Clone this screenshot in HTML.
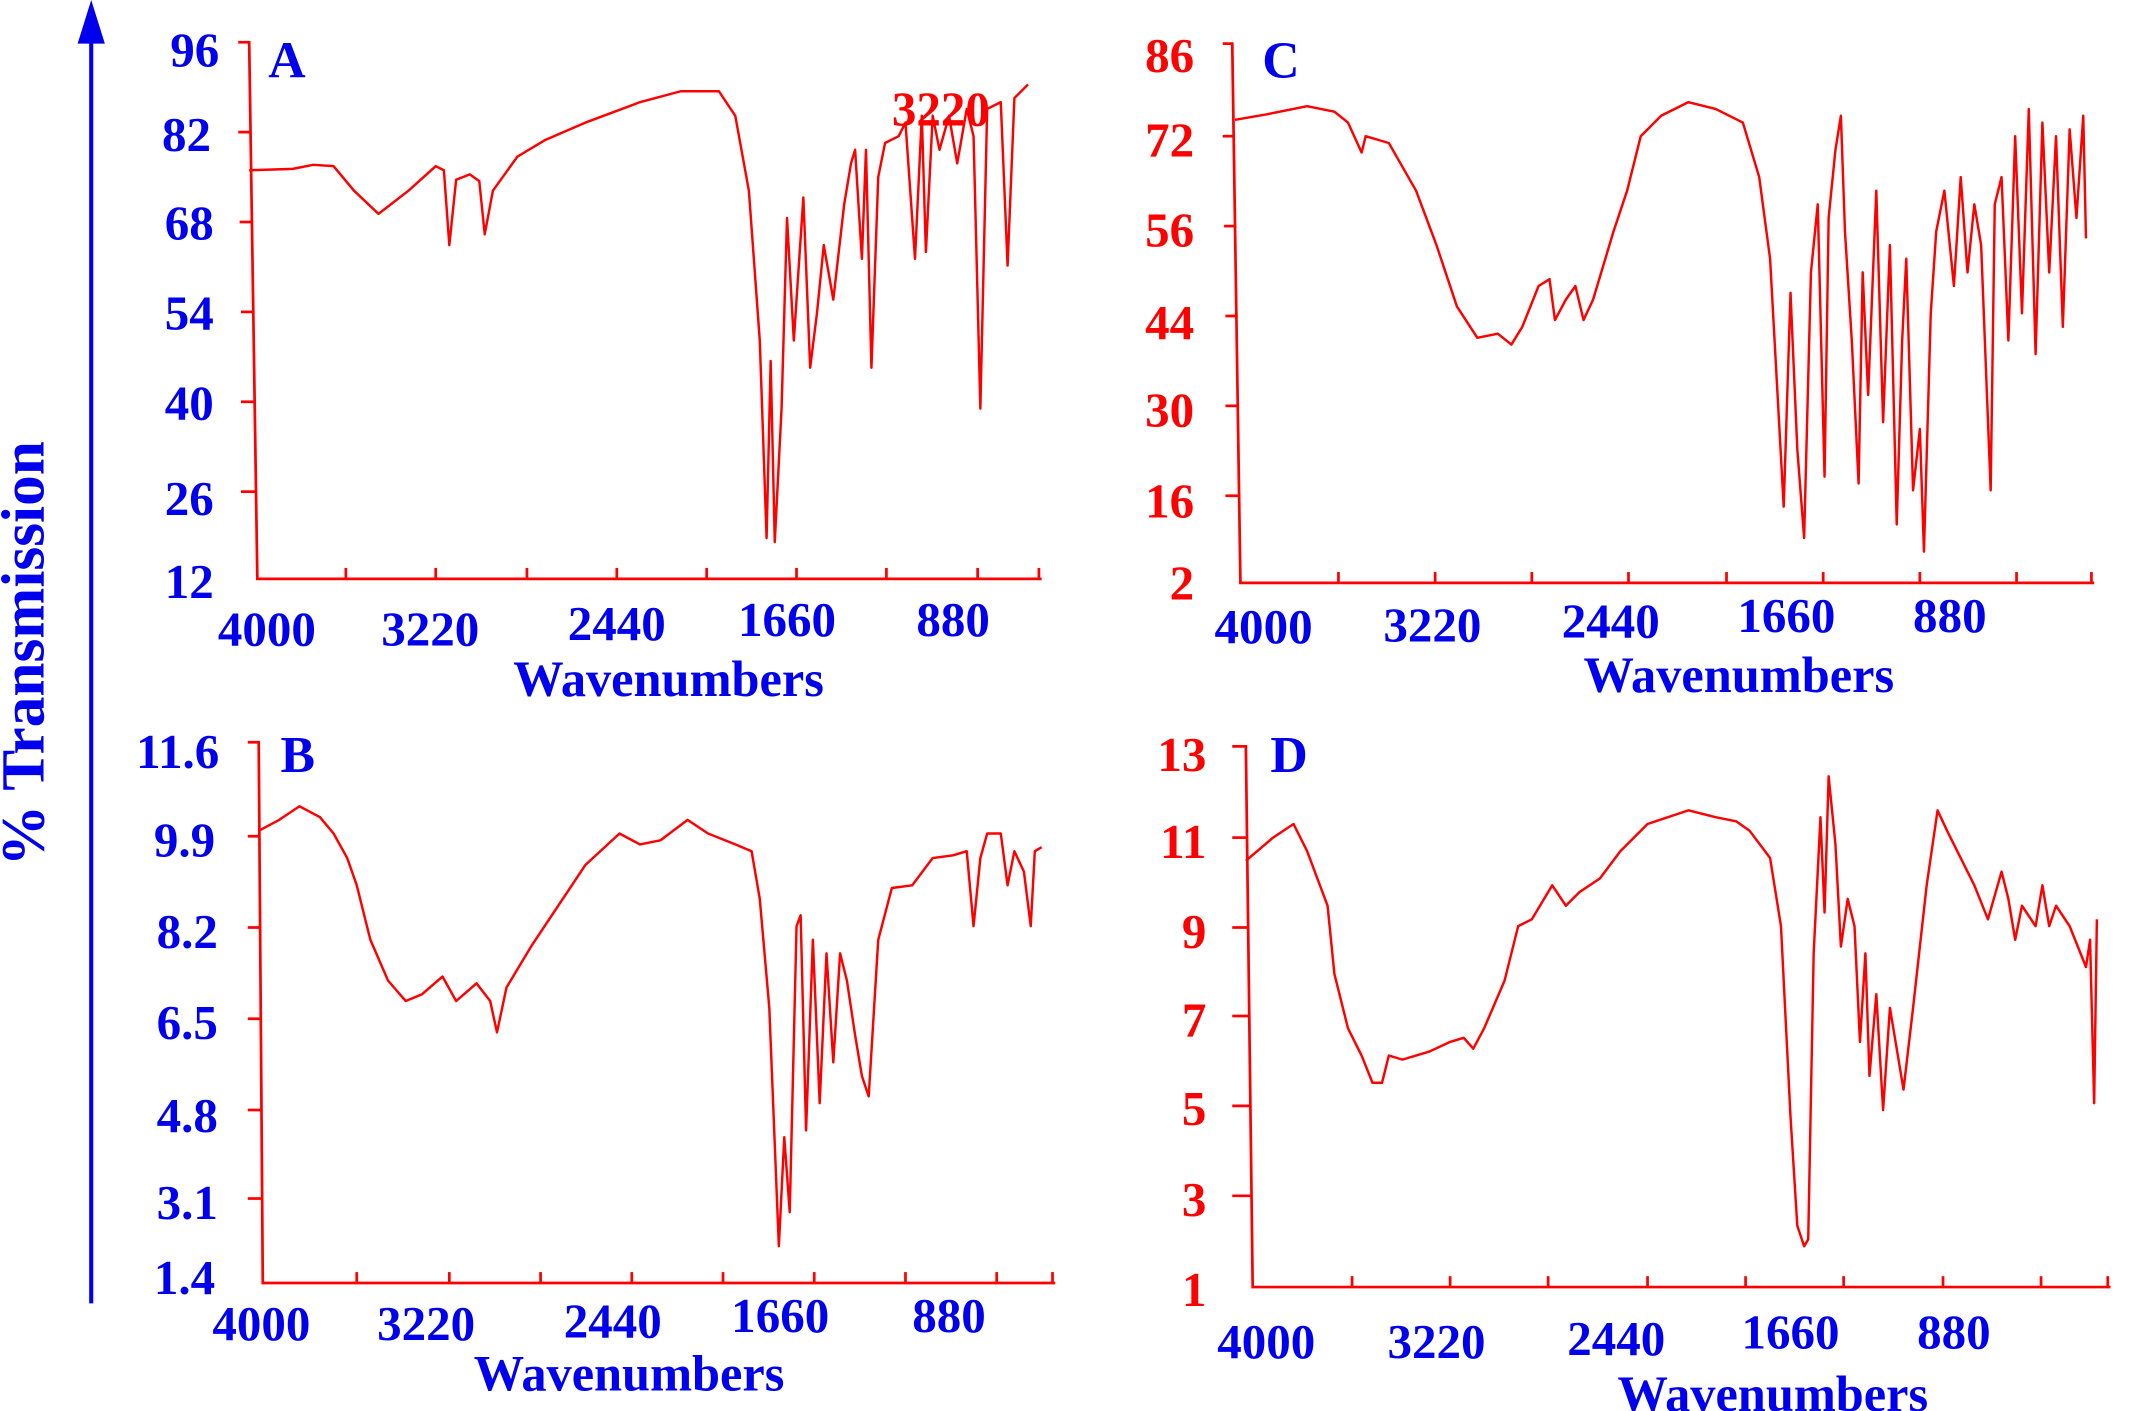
<!DOCTYPE html>
<html><head><meta charset="utf-8"><style>
html,body{margin:0;padding:0;background:#fff;width:2135px;height:1411px;overflow:hidden}
svg{display:block}
text{font-family:"Liberation Serif",serif;font-weight:bold}
.b{fill:#0000ee}.r{fill:#ff0000}
.ax{stroke:#ff0000;stroke-width:2;fill:none}
.sp{stroke:#ff0000;stroke-width:1.8;fill:none;stroke-linejoin:round}
</style></head><body>
<svg width="2135" height="1411" viewBox="0 0 1568 1036" preserveAspectRatio="none">
<line x1="67" y1="957" x2="67" y2="28" stroke="#0000ee" stroke-width="3"/>
<polygon points="57,32 77,32 67,0" fill="#0000ee"/>
<text class="b" font-size="45" transform="translate(32,480) rotate(-90)" text-anchor="middle">% Transmission</text>

<!-- Panel A -->
<polyline class="ax" points="175,31 183,31 189,425 765,425"/>
<g class="ax"><line x1="175" y1="97" x2="184" y2="97"/><line x1="176" y1="163" x2="185" y2="163"/><line x1="177" y1="229" x2="186" y2="229"/><line x1="177" y1="295" x2="187" y2="295"/><line x1="177" y1="361" x2="188" y2="361"/>
<line x1="254" y1="425" x2="254" y2="417"/><line x1="320" y1="425" x2="320" y2="417"/><line x1="387" y1="425" x2="387" y2="417"/><line x1="453" y1="425" x2="453" y2="417"/><line x1="519" y1="425" x2="519" y2="417"/><line x1="585" y1="425" x2="585" y2="417"/><line x1="651" y1="425" x2="651" y2="417"/><line x1="718" y1="425" x2="718" y2="417"/><line x1="763" y1="425" x2="763" y2="417"/></g>
<g class="b" font-size="36" text-anchor="end"><text x="161" y="49">96</text><text x="155" y="111">82</text><text x="157" y="176">68</text><text x="157" y="242">54</text><text x="157" y="308">40</text><text x="157" y="378">26</text><text x="157" y="439">12</text></g>
<g class="b" font-size="36" text-anchor="middle"><text x="196" y="474">4000</text><text x="316" y="474">3220</text><text x="453" y="470">2440</text><text x="578" y="467">1660</text><text x="700" y="467">880</text></g>
<text class="b" font-size="37" x="491" y="511" text-anchor="middle">Wavenumbers</text>
<text class="b" font-size="38" x="197" y="57">A</text>
<text class="r" font-size="36" x="655" y="92">3220</text>
<polyline class="sp" points="183,125 215,124 230,121 245,122 260,140 278,157 300,140 320,122 326,125 330,180 335,132 345,128 352,133 356,172 362,140 380,115 400,103 430,90 470,75 500,67 528,67 540,85 550,140 558,250 563,395 566,265 569,398 574,300 578,160 583,250 590,145 595,270 600,230 605,180 612,220 620,150 625,120 628,110 633,190 636,110 640,270 645,130 650,105 660,100 665,90 672,190 677,85 680,185 685,85 690,110 697,85 703,120 710,80 715,100 720,300 725,80 735,75 740,195 745,72 755,62"/>

<!-- Panel C -->
<polyline class="ax" points="898,32 905,32 911,428 1538,428"/>
<g class="ax"><line x1="898" y1="100" x2="907" y2="100"/><line x1="899" y1="166" x2="908" y2="166"/><line x1="900" y1="232" x2="909" y2="232"/><line x1="900" y1="298" x2="910" y2="298"/><line x1="900" y1="364" x2="911" y2="364"/>
<line x1="983" y1="428" x2="983" y2="420"/><line x1="1054" y1="428" x2="1054" y2="420"/><line x1="1125" y1="428" x2="1125" y2="420"/><line x1="1196" y1="428" x2="1196" y2="420"/><line x1="1268" y1="428" x2="1268" y2="420"/><line x1="1339" y1="428" x2="1339" y2="420"/><line x1="1410" y1="428" x2="1410" y2="420"/><line x1="1481" y1="428" x2="1481" y2="420"/><line x1="1536" y1="428" x2="1536" y2="420"/></g>
<g class="r" font-size="36" text-anchor="end"><text x="877" y="53">86</text><text x="877" y="115">72</text><text x="877" y="181">56</text><text x="877" y="249">44</text><text x="877" y="313">30</text><text x="877" y="380">16</text><text x="877" y="440">2</text></g>
<g class="b" font-size="36" text-anchor="middle"><text x="928" y="472">4000</text><text x="1052" y="471">3220</text><text x="1183" y="468">2440</text><text x="1312" y="464">1660</text><text x="1432" y="464">880</text></g>
<text class="b" font-size="37" x="1277" y="508" text-anchor="middle">Wavenumbers</text>
<text class="b" font-size="38" x="927" y="57">C</text>
<polyline class="sp" points="907,88 930,84 960,78 980,82 990,90 1000,112 1003,100 1020,105 1040,140 1055,180 1070,225 1085,248 1100,245 1110,253 1118,240 1130,210 1138,205 1142,235 1150,220 1157,210 1163,235 1170,220 1185,170 1195,140 1205,100 1220,85 1240,75 1260,80 1280,90 1292,130 1300,190 1310,372 1315,215 1320,330 1325,395 1330,200 1335,150 1340,350 1343,160 1348,110 1352,85 1355,170 1360,250 1365,355 1368,200 1372,290 1378,140 1383,310 1388,180 1393,385 1397,250 1400,190 1405,360 1410,315 1413,405 1418,230 1422,170 1428,140 1435,210 1440,130 1445,200 1450,150 1455,180 1462,360 1465,150 1470,130 1475,250 1480,100 1485,230 1490,80 1495,260 1500,90 1505,200 1510,100 1515,240 1520,95 1525,160 1530,85 1532,175"/>

<!-- Panel B -->
<polyline class="ax" points="182,545 190,545 193,942 775,942"/>
<g class="ax"><line x1="182" y1="614" x2="191" y2="614"/><line x1="182" y1="681" x2="191" y2="681"/><line x1="182" y1="748" x2="192" y2="748"/><line x1="182" y1="815" x2="192" y2="815"/><line x1="182" y1="880" x2="193" y2="880"/>
<line x1="262" y1="942" x2="262" y2="934"/><line x1="330" y1="942" x2="330" y2="934"/><line x1="397" y1="942" x2="397" y2="934"/><line x1="464" y1="942" x2="464" y2="934"/><line x1="531" y1="942" x2="531" y2="934"/><line x1="598" y1="942" x2="598" y2="934"/><line x1="665" y1="942" x2="665" y2="934"/><line x1="732" y1="942" x2="732" y2="934"/><line x1="773" y1="942" x2="773" y2="934"/></g>
<g class="b" font-size="36" text-anchor="end"><text x="161" y="564">11.6</text><text x="158" y="629">9.9</text><text x="160" y="696">8.2</text><text x="160" y="763">6.5</text><text x="160" y="831">4.8</text><text x="160" y="895">3.1</text><text x="158" y="950">1.4</text></g>
<g class="b" font-size="36" text-anchor="middle"><text x="192" y="984">4000</text><text x="313" y="984">3220</text><text x="450" y="982">2440</text><text x="573" y="978">1660</text><text x="697" y="978">880</text></g>
<text class="b" font-size="37" x="462" y="1021" text-anchor="middle">Wavenumbers</text>
<text class="b" font-size="38" x="206" y="567">B</text>
<polyline class="sp" points="190,610 205,602 220,592 235,600 245,612 255,630 262,650 272,690 285,720 298,735 310,730 325,717 335,735 350,722 360,735 365,758 372,725 390,695 410,665 430,635 455,612 470,620 485,617 505,602 520,612 540,620 552,625 558,660 565,740 572,915 576,835 580,890 585,680 588,672 592,830 597,690 602,810 607,700 612,780 617,700 622,720 628,760 633,790 638,805 645,690 655,652 670,650 685,630 700,628 710,625 715,680 720,630 725,612 735,612 740,650 745,625 752,640 757,680 760,625 765,622"/>

<!-- Panel D -->
<polyline class="ax" points="905,548 915,548 920,945 1550,945"/>
<g class="ax"><line x1="905" y1="615" x2="916" y2="615"/><line x1="905" y1="681" x2="917" y2="681"/><line x1="905" y1="746" x2="918" y2="746"/><line x1="905" y1="812" x2="918" y2="812"/><line x1="905" y1="878" x2="919" y2="878"/>
<line x1="993" y1="945" x2="993" y2="937"/><line x1="1065" y1="945" x2="1065" y2="937"/><line x1="1137" y1="945" x2="1137" y2="937"/><line x1="1210" y1="945" x2="1210" y2="937"/><line x1="1282" y1="945" x2="1282" y2="937"/><line x1="1354" y1="945" x2="1354" y2="937"/><line x1="1427" y1="945" x2="1427" y2="937"/><line x1="1499" y1="945" x2="1499" y2="937"/><line x1="1548" y1="945" x2="1548" y2="937"/></g>
<g class="r" font-size="36" text-anchor="end"><text x="886" y="566">13</text><text x="886" y="630">11</text><text x="886" y="696">9</text><text x="886" y="761">7</text><text x="886" y="826">5</text><text x="886" y="893">3</text><text x="886" y="959">1</text></g>
<g class="b" font-size="36" text-anchor="middle"><text x="930" y="997">4000</text><text x="1055" y="997">3220</text><text x="1187" y="995">2440</text><text x="1315" y="990">1660</text><text x="1435" y="990">880</text></g>
<text class="b" font-size="37" x="1302" y="1036" text-anchor="middle">Wavenumbers</text>
<text class="b" font-size="38" x="933" y="567">D</text>
<polyline class="sp" points="915,632 935,615 950,605 960,625 975,665 980,715 990,755 1000,775 1008,795 1015,795 1020,775 1030,778 1050,772 1065,765 1075,762 1082,770 1090,755 1105,720 1115,680 1125,675 1140,650 1150,665 1160,655 1175,645 1190,625 1210,605 1240,595 1260,600 1275,603 1285,610 1300,630 1308,680 1315,820 1320,900 1325,915 1328,910 1332,700 1337,600 1340,670 1343,570 1348,620 1352,695 1357,660 1362,680 1366,765 1370,700 1373,790 1378,730 1383,815 1388,740 1393,770 1398,800 1405,740 1415,650 1423,595 1430,610 1440,630 1450,650 1460,675 1470,640 1475,660 1480,690 1485,665 1495,680 1500,650 1505,680 1510,665 1520,680 1528,700 1532,710 1535,690 1538,810 1540,675"/>
</svg>
</body></html>
